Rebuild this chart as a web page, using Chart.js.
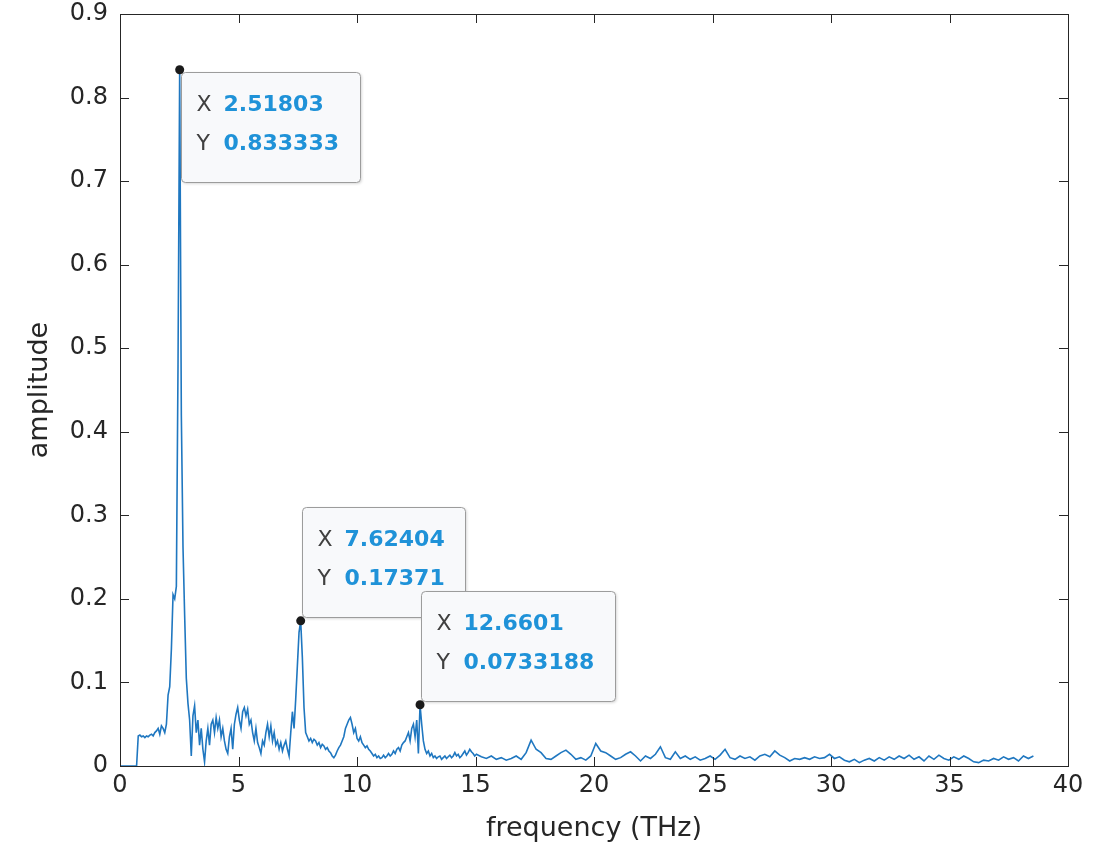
<!DOCTYPE html>
<html lang="en">
<head>
    <meta charset="UTF-8">
    <title>Amplitude spectrum</title>
    <script src="https://cdn.jsdelivr.net/npm/chart.js@4.4.0/dist/chart.umd.min.js"></script>
    <style>
        body { margin: 0; background: #fff; }
        #wrap { width: 1109px; height: 861px; }
    </style>
</head>
<body>
    <div id="wrap"><canvas id="spectrum" width="1109" height="861"></canvas></div>

    <script>
        // frequency grid spacing (THz); low band uses every bin, high band every 3rd
        const freqStep = 0.0699453;
        const highStart = 215;
        const highStride = 3;

        // amplitude, 0 .. 15 THz
        const ampLow = [
            0, 0, 0, 0, 0, 0, 0, 0, 0, 0,
            0, 0.036, 0.037, 0.035, 0.036, 0.034, 0.036, 0.035, 0.037, 0.038,
            0.036, 0.040, 0.042, 0.045, 0.038, 0.048, 0.045, 0.040, 0.050, 0.085,
            0.095, 0.140, 0.205, 0.200, 0.215, 0.480, 0.833333, 0.420, 0.262, 0.180,
            0.105, 0.075, 0.055, 0.012, 0.060, 0.072, 0.040, 0.055, 0.025, 0.045,
            0.020, 0.005, 0.030, 0.045, 0.025, 0.050, 0.055, 0.040, 0.058, 0.045,
            0.055, 0.035, 0.045, 0.030, 0.020, 0.015, 0.035, 0.045, 0.020, 0.050,
            0.062, 0.070, 0.055, 0.045, 0.065, 0.070, 0.060, 0.068, 0.050, 0.055,
            0.040, 0.030, 0.045, 0.028, 0.022, 0.015, 0.030, 0.025, 0.040, 0.050,
            0.035, 0.048, 0.030, 0.040, 0.025, 0.030, 0.020, 0.028, 0.018, 0.025,
            0.030, 0.020, 0.012, 0.040, 0.065, 0.045, 0.080, 0.120, 0.160, 0.17371,
            0.130, 0.070, 0.040, 0.035, 0.030, 0.033, 0.028, 0.032, 0.030, 0.025,
            0.028, 0.022, 0.026, 0.024, 0.020, 0.022, 0.018, 0.016, 0.012, 0.010,
            0.013, 0.018, 0.022, 0.025, 0.030, 0.035, 0.045, 0.050, 0.055, 0.058,
            0.050, 0.040, 0.045, 0.033, 0.030, 0.035, 0.028, 0.025, 0.022, 0.024,
            0.020, 0.018, 0.015, 0.012, 0.014, 0.010, 0.012, 0.009, 0.010, 0.013,
            0.010, 0.012, 0.015, 0.012, 0.014, 0.018, 0.015, 0.020, 0.022, 0.018,
            0.025, 0.028, 0.030, 0.035, 0.040, 0.030, 0.045, 0.050, 0.035, 0.055,
            0.015, 0.0733188, 0.050, 0.030, 0.020, 0.015, 0.018, 0.012, 0.015, 0.010,
            0.012, 0.009, 0.011, 0.012, 0.008, 0.010, 0.012, 0.009, 0.011, 0.013,
            0.010, 0.012, 0.016, 0.012, 0.014, 0.010, 0.012, 0.015, 0.018, 0.013,
            0.016, 0.020, 0.017, 0.015, 0.012
        ];

        // amplitude, 15 .. 38.5 THz
        const ampHigh = [
            0.014, 0.011, 0.009, 0.012, 0.008, 0.010, 0.007, 0.009, 0.012, 0.008,
            0.016, 0.031, 0.020, 0.016, 0.009, 0.008, 0.012, 0.016, 0.019, 0.014,
            0.008, 0.010, 0.007, 0.012, 0.027, 0.018, 0.016, 0.012, 0.008, 0.010,
            0.014, 0.017, 0.012, 0.006, 0.012, 0.009, 0.014, 0.023, 0.010, 0.008,
            0.017, 0.009, 0.012, 0.008, 0.011, 0.007, 0.009, 0.012, 0.008, 0.013,
            0.020, 0.010, 0.008, 0.012, 0.009, 0.011, 0.007, 0.012, 0.014, 0.011,
            0.018, 0.013, 0.010, 0.006, 0.009, 0.008, 0.010, 0.008, 0.011, 0.009,
            0.010, 0.014, 0.009, 0.011, 0.007, 0.005, 0.008, 0.004, 0.007, 0.009,
            0.006, 0.010, 0.007, 0.011, 0.008, 0.012, 0.009, 0.013, 0.008, 0.011,
            0.006, 0.012, 0.008, 0.013, 0.009, 0.007, 0.011, 0.008, 0.012, 0.009,
            0.005, 0.004, 0.007, 0.006, 0.009, 0.007, 0.011, 0.008, 0.010, 0.006,
            0.012, 0.009, 0.012
        ];

        // data tips: bin index into ampLow, and which side of the point the box sits
        const tipIndex = [36, 109, 181];
        const tipPlace = ['below', 'above', 'above'];

        const xTickLabels = ['0', '5', '10', '15', '20', '25', '30', '35', '40'];
        const yTickLabels = ['0', '0.1', '0.2', '0.3', '0.4', '0.5', '0.6', '0.7', '0.8', '0.9'];

        const points = [];
        ampLow.forEach((a, i) => points.push({ x: i * freqStep, y: a }));
        ampHigh.forEach((a, j) => points.push({ x: (highStart + j * highStride) * freqStep, y: a }));

        const FONT = "'DejaVu Sans', sans-serif";
        const axisColor = '#262626';

        function fmt(v) {
            return String(parseFloat(v.toPrecision(6)));
        }

        // box round the axes, ticks pointing inward on all four sides
        const boxAxes = {
            id: 'boxAxes',
            afterDraw(chart) {
                const { ctx, chartArea: a, scales } = chart;
                const tl = 9;
                ctx.save();
                ctx.strokeStyle = axisColor;
                ctx.lineWidth = 1;
                ctx.beginPath();
                scales.x.ticks.forEach(t => {
                    const px = Math.round(scales.x.getPixelForValue(t.value)) + 0.5;
                    ctx.moveTo(px, a.bottom); ctx.lineTo(px, a.bottom - tl);
                    ctx.moveTo(px, a.top); ctx.lineTo(px, a.top + tl);
                });
                scales.y.ticks.forEach(t => {
                    const py = Math.round(scales.y.getPixelForValue(t.value)) + 0.5;
                    ctx.moveTo(a.left, py); ctx.lineTo(a.left + tl, py);
                    ctx.moveTo(a.right, py); ctx.lineTo(a.right - tl, py);
                });
                ctx.stroke();
                ctx.strokeRect(Math.round(a.left) + 0.5, Math.round(a.top) + 0.5,
                    Math.round(a.right - a.left), Math.round(a.bottom - a.top));
                ctx.restore();
            }
        };

        // data tip boxes with the marker dot
        const dataTips = {
            id: 'dataTips',
            afterDraw(chart) {
                const { ctx, scales } = chart;
                const labelFont = '22px ' + FONT;
                const valueFont = 'bold 22px ' + FONT;
                const textLeft = 15, valueGap = 27;
                tipIndex.forEach((idx, k) => {
                    const fx = idx * freqStep;
                    const amp = ampLow[idx];
                    const px = scales.x.getPixelForValue(fx);
                    const py = scales.y.getPixelForValue(amp);
                    const rows = [['X', fmt(fx)], ['Y', fmt(amp)]];

                    ctx.save();
                    ctx.font = valueFont;
                    const vw = Math.max(...rows.map(r => ctx.measureText(r[1]).width));
                    const w = Math.round(textLeft + valueGap + vw + 21);
                    const h = 110;
                    const left = Math.round(px) + 1.5;
                    const top = tipPlace[k] === 'below' ? Math.round(py) + 2.5 : Math.round(py) - 3.5 - h;

                    ctx.shadowColor = 'rgba(0,0,0,0.2)';
                    ctx.shadowBlur = 3;
                    ctx.shadowOffsetX = 1;
                    ctx.shadowOffsetY = 1;
                    ctx.beginPath();
                    ctx.roundRect(left, top, w, h, 4);
                    ctx.fillStyle = '#f8f9fb';
                    ctx.fill();
                    ctx.shadowColor = 'transparent';
                    ctx.strokeStyle = '#9c9c9c';
                    ctx.lineWidth = 1;
                    ctx.stroke();

                    ctx.textBaseline = 'middle';
                    rows.forEach((r, n) => {
                        const ty = top + 33 + n * 39;
                        ctx.font = labelFont;
                        ctx.fillStyle = '#404040';
                        ctx.fillText(r[0], left + textLeft, ty);
                        ctx.font = valueFont;
                        ctx.fillStyle = '#1f92d8';
                        ctx.fillText(r[1], left + textLeft + valueGap, ty);
                    });

                    ctx.beginPath();
                    ctx.arc(px, py, 4.5, 0, Math.PI * 2);
                    ctx.fillStyle = '#1a1a1a';
                    ctx.fill();
                    ctx.restore();
                });
            }
        };

        new Chart(document.getElementById('spectrum'), {
            type: 'line',
            data: {
                datasets: [{
                    data: points,
                    borderColor: '#1f77c0',
                    borderWidth: 1.6,
                    pointRadius: 0,
                    tension: 0,
                    fill: false
                }]
            },
            options: {
                responsive: false,
                animation: false,
                layout: { padding: { top: 14, right: 41, left: 0, bottom: 0 } },
                plugins: {
                    legend: { display: false },
                    tooltip: { enabled: false }
                },
                scales: {
                    x: {
                        type: 'linear',
                        min: 0,
                        max: 40,
                        border: { display: false },
                        grid: { display: false, drawTicks: false },
                        ticks: {
                            stepSize: 5,
                            padding: 5,
                            color: axisColor,
                            font: { family: FONT, size: 24 },
                            maxRotation: 0,
                            callback: (v, i) => xTickLabels[i]
                        },
                        title: {
                            display: true,
                            text: 'frequency (THz)',
                            color: axisColor,
                            font: { family: FONT, size: 27 },
                            padding: { top: 0, bottom: 16 }
                        },
                        afterFit: s => {
                            s.height = 95;
                            s.paddingLeft = 0;
                            s.paddingRight = 0;
                        }
                    },
                    y: {
                        type: 'linear',
                        min: 0,
                        max: 0.9,
                        border: { display: false },
                        grid: { display: false, drawTicks: false },
                        ticks: {
                            stepSize: 0.1,
                            padding: 12,
                            color: axisColor,
                            font: { family: FONT, size: 24 },
                            callback: (v, i) => yTickLabels[i]
                        },
                        title: {
                            display: true,
                            text: 'amplitude',
                            color: axisColor,
                            font: { family: FONT, size: 27 },
                            padding: { top: 24, bottom: 0 }
                        },
                        afterFit: s => {
                            s.width = 120;
                            s.paddingTop = 0;
                            s.paddingBottom = 0;
                        }
                    }
                }
            },
            plugins: [boxAxes, dataTips]
        });
    </script>
</body>
</html>
